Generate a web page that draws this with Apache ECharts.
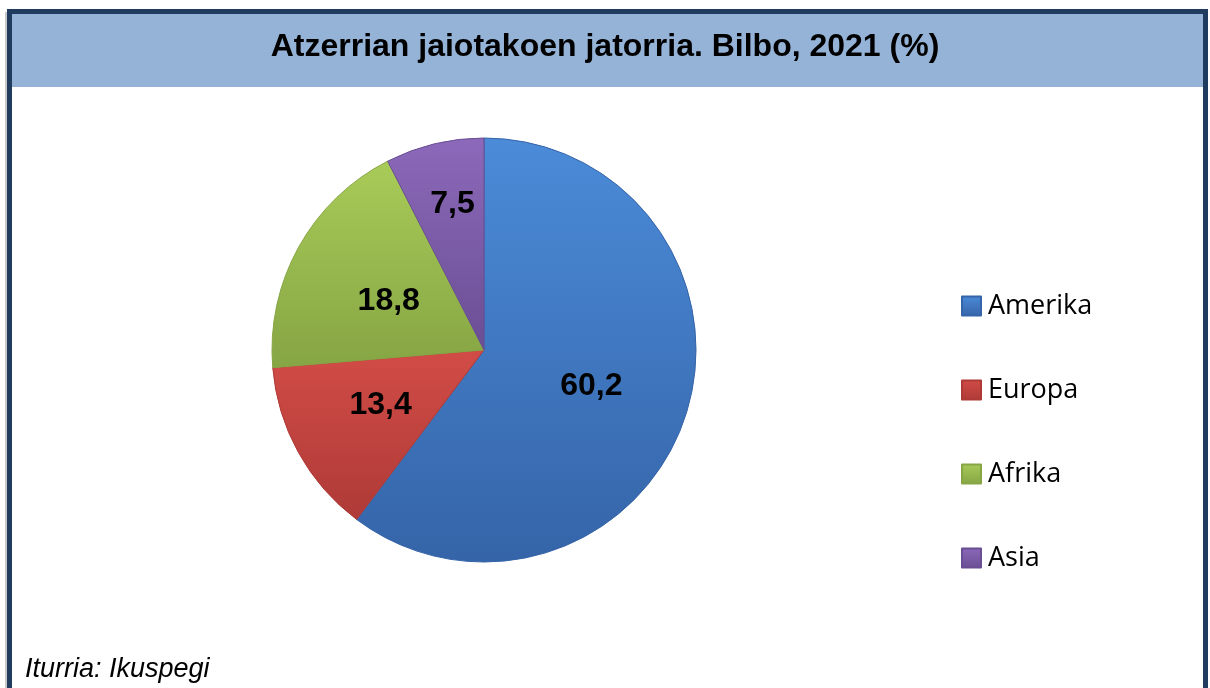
<!DOCTYPE html>
<html>
<head>
<meta charset="utf-8">
<script src="https://cdn.jsdelivr.net/npm/echarts@6/dist/echarts.min.js"></script>
<style>
  html, body { margin: 0; padding: 0; background: #fff; }
  #chart { width: 1210px; height: 688px; }
</style>
</head>
<body>
<div id="chart"></div>
<script>
// data
const categories = ['Amerika', 'Europa', 'Afrika', 'Asia']
const values = [60.2, 13.4, 18.8, 7.5]
const topColors = ['#4B8BD8', '#D24C47', '#A8CB58', '#8C69BA']
const bottomColors = ['#3564A8', '#AE3A37', '#86A544', '#6A4E94']

const chartTitle = 'Atzerrian jaiotakoen jatorria. Bilbo, 2021 (%)'
const source = 'Iturria: Ikuspegi'

const myChart = echarts.init(document.getElementById('chart'))

const fmt = v => v.toFixed(1).replace('.', ',')

const option = {
  animation: false,
  backgroundColor: '#fff',
  graphic: [
    // title band
    { type: 'rect', shape: { x: 12, y: 14, width: 1191, height: 73 }, style: { fill: '#95B3D7' }, z: 0 },
    // frame
    { type: 'rect', shape: { x: 9.5, y: 11.5, width: 1196, height: 700 }, style: { fill: null, stroke: '#1F3B5E', lineWidth: 5 }, z: 1 },
    { type: 'rect', shape: { x: 5, y: 12, width: 2, height: 680 }, style: { fill: '#C8C8C8' }, z: 1 }
  ],
  title: [
    {
      text: chartTitle,
      left: 'center',
      top: 26,
      textStyle: { fontFamily: 'Liberation Sans', fontWeight: 'bold', fontSize: 32, color: '#000' }
    },
    {
      text: source,
      left: 20,
      top: 651,
      textStyle: { fontFamily: 'Liberation Sans', fontStyle: 'italic', fontWeight: 'normal', fontSize: 27, color: '#000' }
    }
  ],
  legend: {
    orient: 'vertical',
    left: 956,
    top: 286,
    itemWidth: 19,
    itemHeight: 19,
    itemGap: 54,
    icon: 'rect',
    selectedMode: false,
    data: categories,
    textStyle: { fontFamily: 'Open Sans', fontSize: 27, color: '#000', lineHeight: 30, padding: [0, 0, 0, 2] }
  },
  series: [
    {
      type: 'pie',
      center: [484, 350],
      radius: 212,
      startAngle: 90,
      clockwise: true,
      silent: true,
      label: {
        show: true,
        position: 'inside',
        formatter: p => fmt(p.value),
        fontFamily: 'Liberation Sans',
        fontWeight: 'bold',
        fontSize: 32,
        color: '#000'
      },
      labelLine: { show: false },
      labelLayout: p => {
        if (p.dataIndex === 3) return { dx: -6, dy: -40 }
        if (p.dataIndex === 2) return { dy: 4 }
        if (p.dataIndex === 1) return { dx: -8, dy: 2 }
        return { dx: 4, dy: 2 }
      },
      data: categories.map((name, i) => ({
        name: name,
        value: values[i],
        itemStyle: {
          color: new echarts.graphic.LinearGradient(0, 0, 0, 1, [
            { offset: 0, color: topColors[i] },
            { offset: 1, color: bottomColors[i] }
          ]),
          borderColor: bottomColors[i],
          borderWidth: 1
        }
      }))
    }
  ]
}

myChart.setOption(option)
</script>
</body>
</html>
